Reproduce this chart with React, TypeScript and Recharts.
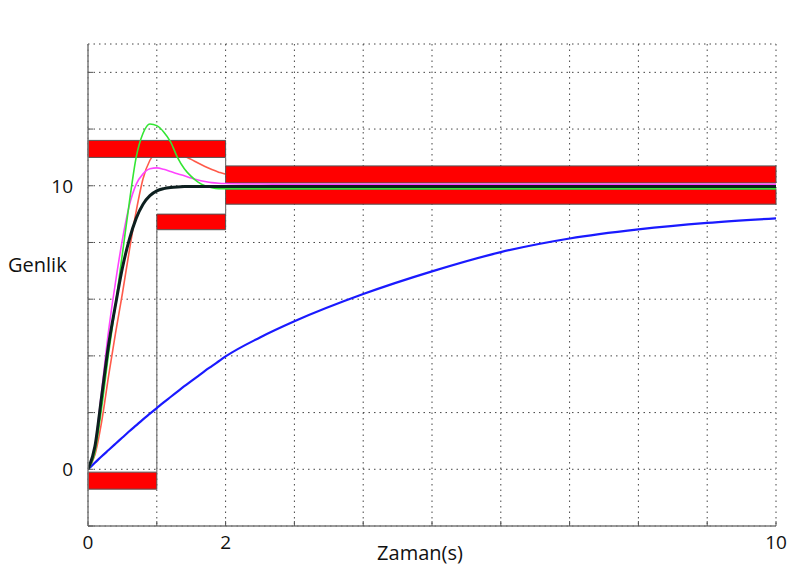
import React from 'react';
import { LineChart, Line, XAxis, YAxis, CartesianGrid, ReferenceArea, ReferenceLine } from 'recharts';

const font = '"Open Sans", sans-serif';

// zaman ekseni (s)
const times = [0, 0.1, 0.2, 0.3, 0.4, 0.5, 0.6, 0.7, 0.8, 0.9, 1.0, 1.1, 1.2, 1.3, 1.4, 1.5, 1.6, 1.7, 1.8, 1.9, 2.0, 2.5, 3, 4, 5, 6, 7, 8, 9, 10];

const greenResp = [0, 0.6, 2.2, 4.1, 5.8, 7.6, 9.4, 11.0, 11.85, 12.18, 12.12, 11.9, 11.55, 11.0, 10.6, 10.33, 10.13, 10.0, 9.93, 9.9, 9.9, 9.9, 9.9, 9.9, 9.9, 9.9, 9.9, 9.9, 9.9, 9.9];
const redResp = [0, 0.5, 1.7, 3.3, 4.8, 6.2, 7.7, 9.1, 10.25, 10.9, 11.2, 11.3, 11.28, 11.18, 11.05, 10.93, 10.8, 10.68, 10.57, 10.48, 10.41, 10.32, 10.28, 10.25, 10.25, 10.25, 10.25, 10.25, 10.25, 10.25];
const magentaResp = [0, 0.8, 2.8, 4.9, 6.6, 8.1, 9.3, 10.05, 10.42, 10.6, 10.63, 10.58, 10.5, 10.42, 10.35, 10.27, 10.2, 10.15, 10.11, 10.09, 10.08, 10.06, 10.05, 10.05, 10.05, 10.05, 10.05, 10.05, 10.05, 10.05];
const blackResp = [0, 0.8, 2.6, 4.4, 5.8, 7.1, 8.1, 8.85, 9.35, 9.65, 9.82, 9.9, 9.94, 9.96, 9.97, 9.97, 9.97, 9.97, 9.97, 9.97, 9.97, 9.97, 9.97, 9.97, 9.97, 9.97, 9.97, 9.97, 9.97, 9.97];
const blueResp = [0, 0.23, 0.46, 0.68, 0.9, 1.12, 1.34, 1.55, 1.76, 1.96, 2.16, 2.36, 2.55, 2.74, 2.93, 3.11, 3.29, 3.47, 3.64, 3.81, 3.98, 4.65, 5.22, 6.18, 6.98, 7.66, 8.14, 8.46, 8.69, 8.85];

// kisit bantlari
const bands = [
  { x1: 0, x2: 1, y1: -0.7, y2: -0.1 },
  { x1: 0, x2: 2, y1: 11.0, y2: 11.6 },
  { x1: 1, x2: 2, y1: 8.45, y2: 9.0 },
  { x1: 2, x2: 10, y1: 10.1, y2: 10.7 },
  { x1: 2, x2: 10, y1: 9.35, y2: 9.88 },
];
const steps = [
  { x: 1, from: -0.1, to: 8.45 },
  { x: 2, from: 10.7, to: 11.0 },
  { x: 2, from: 9.0, to: 9.35 },
];

const xTicks = [0, 1, 2, 3, 4, 5, 6, 7, 8, 9, 10];
const xLabels = [0, 2, 10];
const yTicks = [-2, 0, 2, 4, 6, 8, 10, 12, 14];
const yLabels = [0, 10];

const data = times.map((t, i) => ({
  t,
  green: greenResp[i],
  red: redResp[i],
  magenta: magentaResp[i],
  black: blackResp[i],
  blue: blueResp[i],
}));

const tickStyle = { fill: '#111', fontSize: 19, fontFamily: font };
const axisLine = { stroke: '#7a7a7a', strokeWidth: 1.5 };
const tickLine = { stroke: '#555' };

export default function App() {
  return (
    <div style={{ position: 'absolute', left: 0, top: 0, background: '#fff' }}>
      <LineChart width={788} height={572} data={data} margin={{ top: 44, right: 12, bottom: 26, left: 0 }}>
        <CartesianGrid xAxisId="bottom" yAxisId="left" stroke="#444" strokeDasharray="1.5 4" />

        {/* kirmizi cevap bantlarin altinda kalir */}
        <Line xAxisId="bottom" yAxisId="left" zIndex={350} type="monotone" dataKey="red" stroke="#ff5a4a" strokeWidth={1.6} dot={false} activeDot={false} isAnimationActive={false} />

        {bands.map((b, i) => (
          <ReferenceArea key={i} zIndex={380} xAxisId="bottom" yAxisId="left" x1={b.x1} x2={b.x2} y1={b.y1} y2={b.y2} fill="#ff0000" fillOpacity={1} stroke="#555" strokeWidth={1} />
        ))}
        {steps.map((s, i) => (
          <ReferenceLine key={i} zIndex={380} xAxisId="bottom" yAxisId="left" segment={[{ x: s.x, y: s.from }, { x: s.x, y: s.to }]} stroke="#777" strokeWidth={1.2} />
        ))}

        <Line xAxisId="bottom" yAxisId="left" zIndex={400} type="monotone" dataKey="blue" stroke="#1a1aff" strokeWidth={2.2} dot={false} activeDot={false} isAnimationActive={false} />
        <Line xAxisId="bottom" yAxisId="left" zIndex={400} type="monotone" dataKey="magenta" stroke="#ff44ff" strokeWidth={1.6} dot={false} activeDot={false} isAnimationActive={false} />
        <Line xAxisId="bottom" yAxisId="left" zIndex={400} type="monotone" dataKey="green" stroke="#33e633" strokeWidth={1.6} dot={false} activeDot={false} isAnimationActive={false} />
        <Line xAxisId="bottom" yAxisId="left" zIndex={400} type="monotone" dataKey="black" stroke="#0d1f1f" strokeWidth={3} dot={false} activeDot={false} isAnimationActive={false} />

        <XAxis
          xAxisId="bottom"
          dataKey="t"
          type="number"
          domain={[0, 10]}
          ticks={xTicks}
          interval={0}
          tickFormatter={(v: number) => (xLabels.includes(v) ? String(v) : '')}
          height={20}
          tickSize={-5}
          tickMargin={15}
          axisLine={axisLine}
          tickLine={tickLine}
          tick={tickStyle}
          allowDataOverflow
          label={{ value: 'Zaman(s)', position: 'bottom', offset: 0, dx: -12, fill: '#111', fontSize: 20, fontFamily: font }}
        />
        <XAxis
          xAxisId="top"
          orientation="top"
          type="number"
          domain={[0, 10]}
          ticks={xTicks}
          interval={0}
          height={0}
          tickSize={-5}
          tick={false}
          axisLine={axisLine}
          tickLine={tickLine}
          label={{ value: 'Sistem cevabı', position: 'top', offset: 19, fill: '#111', fontSize: 20, fontFamily: font }}
        />
        <YAxis
          yAxisId="left"
          type="number"
          domain={[-2, 15]}
          ticks={yTicks}
          interval={0}
          tickFormatter={(v: number) => (yLabels.includes(v) ? String(v) : '')}
          width={88}
          tickSize={-5}
          tickMargin={20}
          axisLine={axisLine}
          tickLine={tickLine}
          tick={tickStyle}
          allowDataOverflow
          label={{ value: 'Genlik', position: 'insideLeft', offset: 8, dy: -20, fill: '#111', fontSize: 20, fontFamily: font }}
        />
        <YAxis
          yAxisId="right"
          orientation="right"
          type="number"
          domain={[-2, 15]}
          ticks={yTicks}
          interval={0}
          width={0}
          tickSize={-5}
          tick={false}
          axisLine={axisLine}
          tickLine={tickLine}
        />
      </LineChart>
    </div>
  );
}
